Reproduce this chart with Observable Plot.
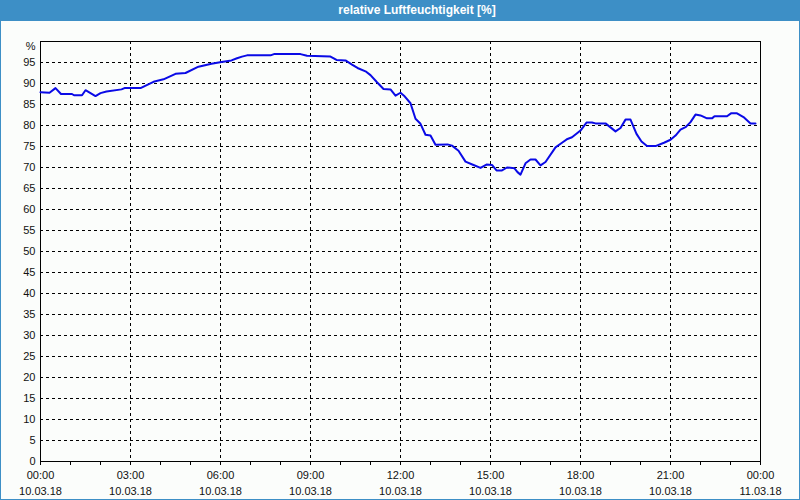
<!DOCTYPE html>
<html>
<head>
<meta charset="utf-8">
<script src="https://cdn.jsdelivr.net/npm/d3@7"></script>
<script src="https://cdn.jsdelivr.net/npm/@observablehq/plot@0.6"></script>
<style>
  html, body { margin: 0; padding: 0; }
  body { width: 800px; height: 500px; background: #3d8fc6; position: relative; overflow: hidden; font-family: "Liberation Sans", Arial, sans-serif; }
  #title { position: absolute; left: 0; top: 0; width: 800px; height: 21px; line-height: 21px; color: #fff; font-weight: bold; font-size: 12px; text-align: center; padding-left: 34px; box-sizing: border-box; }
  #chart { position: absolute; left: 1px; top: 21px; width: 798px; height: 478px; background: #fbfdfb; }
  #chart svg { display: block; }
</style>
</head>
<body>
<div id="title">relative Luftfeuchtigkeit [%]</div>
<div id="chart"></div>
<script>
// Measurement times (10.03.18) and relative humidity values [%]
const times = ["00:00","00:18","00:30","00:41","01:03","01:07","01:23","01:30","01:40","01:50",
  "02:00","02:12","02:42","02:48","03:20","03:46","04:06","04:30","04:50","05:16",
  "05:42","06:02","06:22","06:33","06:43","06:53","07:40","07:47","08:40","08:53",
  "09:40","09:52","10:10","10:23","10:34","10:50","11:00","11:13","11:26","11:40",
  "11:50","12:00","12:07","12:20","12:30","12:40","12:50","13:00","13:10","13:34",
  "13:43","13:56","14:10","14:26","14:40","14:52","15:03","15:12","15:23","15:33",
  "15:48","15:54","16:00","16:10","16:20","16:30","16:40","16:50","17:10","17:23",
  "17:34","17:43","18:00","18:12","18:23","18:30","18:50","19:10","19:20","19:30",
  "19:40","19:52","20:02","20:13","20:30","20:47","21:00","21:10","21:20","21:30",
  "21:40","21:50","22:00","22:13","22:23","22:28","22:53","23:01","23:13","23:26",
  "23:40","23:50"];
const humidity = [87.9,87.8,88.9,87.5,87.5,87.2,87.2,88.4,87.7,87.0,
  87.7,88.1,88.6,88.9,88.9,90.4,91.0,92.3,92.5,94.0,
  94.7,95.1,95.5,96.0,96.4,96.7,96.7,97.0,97.0,96.6,
  96.4,95.6,95.5,94.5,93.7,92.9,92.0,90.3,88.7,88.6,
  87.1,87.8,87.1,85.3,81.6,80.4,77.8,77.6,75.4,75.5,
  75.2,74.0,71.4,70.6,69.9,70.7,70.6,69.3,69.3,70.0,
  69.8,68.9,68.3,71.0,71.9,71.9,70.5,71.3,74.8,75.9,
  76.8,77.2,78.8,80.7,80.7,80.5,80.5,78.6,79.4,81.4,
  81.4,78.0,76.2,75.1,75.1,75.9,76.6,77.6,79.0,79.6,
  80.8,82.6,82.4,81.7,81.7,82.2,82.2,82.9,82.9,82.0,
  80.5,80.5];
const startDay = [2018, 2, 10];
const endDay = [2018, 2, 11];
const yTicks = d3.range(0, 100, 5);
const yUnit = "%";

const toDate = (s) => { const [h, m] = s.split(":").map(Number); return new Date(startDay[0], startDay[1], startDay[2], h, m); };
const data = times.map((t, i) => ({ date: toDate(t), value: humidity[i] }));
const x0 = new Date(startDay[0], startDay[1], startDay[2]);
const x1 = new Date(endDay[0], endDay[1], endDay[2]);
const majorTicks = d3.timeHour.every(3).range(x0, new Date(+x1 + 1));
const minorTicks = d3.timeHour.every(1).range(x0, new Date(+x1 + 1));
const innerMajor = majorTicks.filter(d => +d !== +x0 && +d !== +x1);
const fmt = (d) => d3.timeFormat("%H:%M")(d) + "\n" + d3.timeFormat("%d.%m.%y")(d);

const chart = Plot.plot({
  width: 798,
  height: 478,
  marginLeft: 39,
  marginRight: 39,
  marginTop: 20,
  marginBottom: 38,
  style: { background: "transparent", fontFamily: "'Liberation Sans', Arial, sans-serif", fontSize: "11px", color: "#111" },
  x: { type: "time", domain: [x0, x1] },
  y: { domain: [0, 100] },
  marks: [
    Plot.gridY(yTicks.filter(d => d > 0), { stroke: "#000", strokeOpacity: 1, strokeDasharray: "3,3" }),
    Plot.gridX(innerMajor, { stroke: "#000", strokeOpacity: 1, strokeDasharray: "3,3" }),
    Plot.axisY(yTicks, { tickSize: 0, tickPadding: 5, label: null, fontSize: 11 }),
    Plot.text([yUnit], { x: x0, y: 100, dx: -5, dy: 5, textAnchor: "end", fontSize: 11, fill: "#111" }),
    Plot.axisX(minorTicks, { tickSize: 4, tickFormat: () => "", label: null, stroke: "#000" }),
    Plot.axisX(majorTicks, { tickSize: 0, tickPadding: 6, tickFormat: fmt, lineHeight: 1.45, label: null, fontSize: 11 }),
    Plot.frame({ stroke: "#000", strokeWidth: 1 }),
    Plot.line(data, { x: "date", y: "value", stroke: "#0a0ae6", strokeWidth: 2 })
  ]
});
document.getElementById("chart").appendChild(chart);
</script>
</body>
</html>
